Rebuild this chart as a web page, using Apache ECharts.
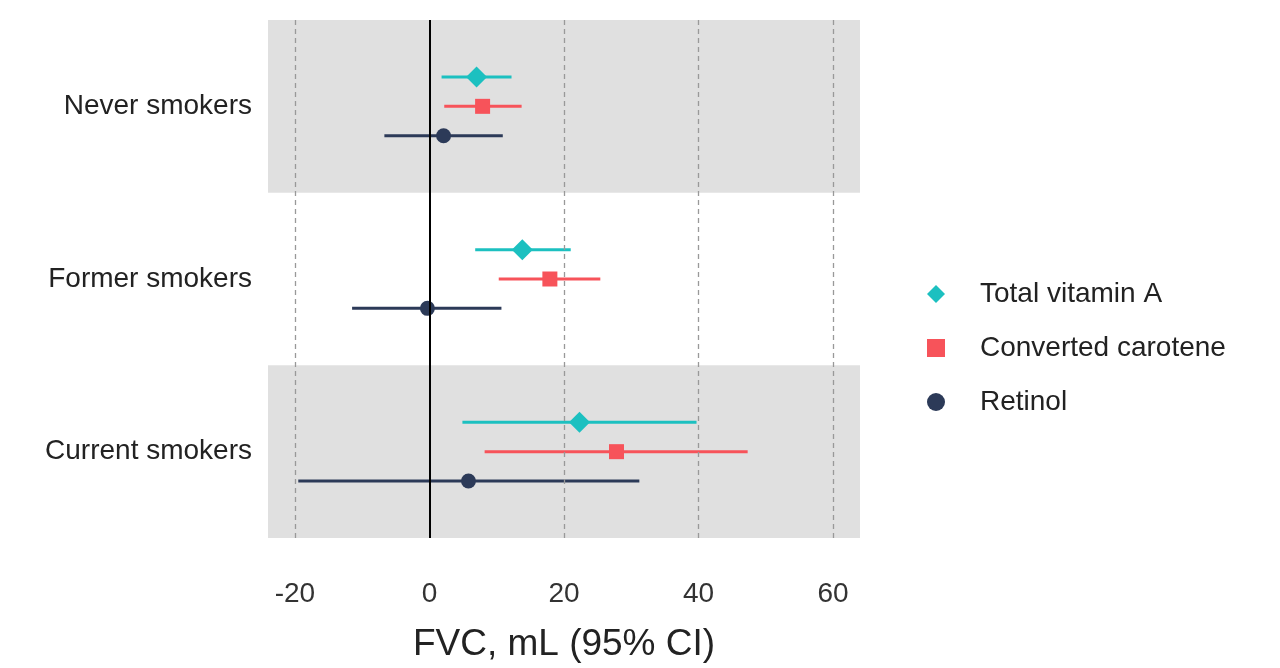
<!DOCTYPE html>
<html>
<head>
<meta charset="utf-8">
<script src="https://cdn.jsdelivr.net/npm/echarts@6/dist/echarts.min.js"></script>
<style>html,body{margin:0;padding:0;background:#fff}#main{width:1280px;height:668px}</style>
</head>
<body>
<div id="main"></div>
<script>
var groups = ['Never smokers', 'Former smokers', 'Current smokers'];
var seriesNames = ['Total vitamin A', 'Converted carotene', 'Retinol'];
var colors = ['#1cc0c0', '#f7535a', '#2c3a58'];
var symbols = ['diamond', 'rect', 'circle'];
// estimate, lower, upper per group
var totalVitA = [[7.0, 1.8, 12.2], [13.8, 6.8, 21.0], [22.3, 4.9, 39.7]];
var convCarotene = [[7.9, 2.2, 13.7], [17.9, 10.3, 25.4], [27.8, 8.2, 47.3]];
var retinol = [[2.1, -6.7, 10.9], [-0.3, -11.5, 10.7], [5.8, -19.5, 31.2]];
var allData = [totalVitA, convCarotene, retinol];
var offsets = [-0.17, 0, 0.17];
var gridTicks = [-20, 20, 40, 60];

var myChart = echarts.init(document.getElementById('main'));
var series = [];
allData.forEach(function (d, s) {
  var rows = d.map(function (r, g) { return [r[0], r[1], r[2], g + offsets[s]]; });
  series.push({
    type: 'custom', name: seriesNames[s], xAxisIndex: 0, yAxisIndex: 0, z: 3,
    data: rows,
    encode: { x: [1, 2], y: 3 },
    renderItem: function (params, api) {
      var a = api.coord([api.value(1), api.value(3)]);
      var b = api.coord([api.value(2), api.value(3)]);
      return { type: 'line', shape: { x1: a[0], y1: a[1], x2: b[0], y2: b[1] },
               style: { stroke: colors[s], lineWidth: 3 } };
    }
  });
  series.push({
    type: 'scatter', name: seriesNames[s], xAxisIndex: 0, yAxisIndex: 0, z: 4,
    symbol: symbols[s], symbolSize: s === 0 ? 21 : (s === 1 ? 15 : 15),
    itemStyle: { color: colors[s], opacity: 1 },
    data: rows.map(function (r) { return [r[0], r[3]]; })
  });
});
series.push({
  type: 'line', data: [], xAxisIndex: 0, yAxisIndex: 0, z: 1,
  markArea: { silent: true, itemStyle: { color: '#e0e0e0' },
    data: [[{ yAxis: -0.5 }, { yAxis: 0.5 }], [{ yAxis: 1.5 }, { yAxis: 2.5 }]] },
  markLine: { silent: true, symbol: 'none', label: { show: false },
    data: gridTicks.map(function (v) { return { xAxis: v, lineStyle: { color: '#999', type: [5, 4], width: 1.3 } }; })
      .concat([{ xAxis: 0, lineStyle: { color: '#000', type: 'solid', width: 2 } }]) }
});

var option = {
  animation: false,
  grid: { left: 268, right: 420, top: 20, bottom: 123 },
  legend: {
    orient: 'vertical', left: 922, top: 275, itemGap: 26, itemWidth: 18, itemHeight: 18,
    textStyle: { fontSize: 28, color: '#222', fontFamily: 'Liberation Sans', padding: [0, 0, 0, 30] },
    data: seriesNames.map(function (n, i) { return { name: n, icon: symbols[i], itemStyle: { color: colors[i] } }; })
  },
  xAxis: {
    type: 'value', min: -24, max: 64, interval: 4,
    name: 'FVC, mL (95% CI)', nameLocation: 'middle', nameGap: 88,
    nameTextStyle: { fontSize: 37, color: '#222', fontFamily: 'Liberation Sans' },
    axisLine: { show: false }, axisTick: { show: false }, splitLine: { show: false },
    axisLabel: { fontSize: 28, color: '#333', margin: 42, fontFamily: 'Liberation Sans',
      formatter: function (v) { return v % 20 === 0 ? String(v) : ''; } }
  },
  yAxis: [
    { type: 'value', min: -0.5, max: 2.5, inverse: true, show: false },
    { type: 'category', data: groups, inverse: true, position: 'left',
      axisLine: { show: false }, axisTick: { show: false },
      axisLabel: { fontSize: 28, color: '#222', margin: 16, fontFamily: 'Liberation Sans' } }
  ],
  series: series
};
myChart.setOption(option);
</script>
</body>
</html>
